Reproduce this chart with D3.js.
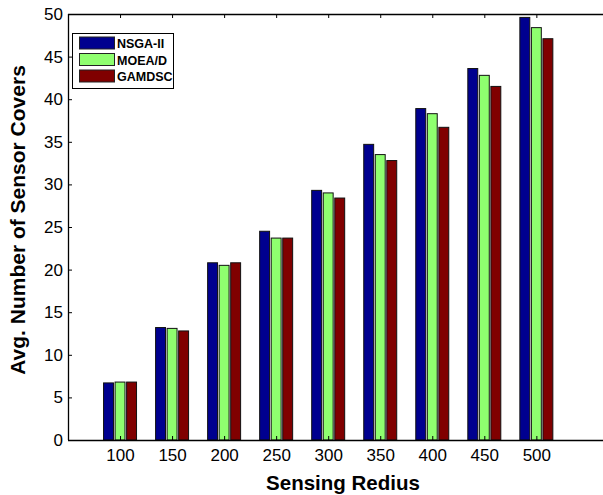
<!DOCTYPE html>
<html><head><meta charset="utf-8">
<script src="https://cdn.jsdelivr.net/npm/d3@7"></script>
<style>body{margin:0;background:#fff;overflow:hidden}svg{display:block}text{font-family:"Liberation Sans",Arial,Helvetica,sans-serif}</style>
</head><body><svg id="c" width="603" height="495"></svg>
<script>
const categories = [100,150,200,250,300,350,400,450,500];
const seriesNames = ["NSGA-II","MOEA/D","GAMDSC"];
const nsga2 = [6.7,13.2,20.8,24.5,29.3,34.7,38.9,43.6,49.6];
const moead = [6.8,13.1,20.5,23.7,29.0,33.5,38.3,42.8,48.4];
const gamdsc = [6.8,12.8,20.8,23.7,28.4,32.8,36.7,41.5,47.1];
const colors = ["#00008f","#8fff6f","#800000"];
const yTicks = [0,5,10,15,20,25,30,35,40,45,50];

const svg = d3.select("#c");
const L=68, T=14, B=440, R=604;
const x = d3.scaleLinear().domain([50,565]).range([L,R]);
const y = d3.scaleLinear().domain([0,50]).range([B,T]);
const off = d3.scaleBand().domain(d3.range(3)).range([-17.3,17.3]).paddingInner(0.14).paddingOuter(0.07);
const series = [nsga2, moead, gamdsc];

series.forEach((vals,si)=>{
  svg.append("g").selectAll("rect").data(vals).join("rect")
    .attr("x",(d,i)=>x(categories[i])+off(si))
    .attr("y",d=>y(d))
    .attr("width",off.bandwidth())
    .attr("height",d=>B-y(d))
    .attr("fill",colors[si])
    .attr("stroke","#111").attr("stroke-width",1);
});

// axes
const fs = 17;
const xb = svg.append("g").attr("transform",`translate(0,${B})`)
  .call(d3.axisBottom(x).tickValues(categories).tickSize(-4).tickSizeOuter(0).tickPadding(9).tickFormat(d3.format("d")));
const xt = svg.append("g").attr("transform",`translate(0,${T})`)
  .call(d3.axisTop(x).tickValues(categories).tickSize(-4).tickSizeOuter(0).tickFormat(""));
const yl = svg.append("g").attr("transform",`translate(${L},0)`)
  .call(d3.axisLeft(y).tickValues(yTicks).tickSize(-4).tickSizeOuter(0).tickPadding(5));
[xb,xt,yl].forEach(g=>{
  g.select(".domain").attr("stroke","#000").attr("stroke-width",1.3);
  g.selectAll(".tick line").attr("stroke","#000");
  g.selectAll("text").attr("font-size",fs).attr("fill","#000").attr("font-family","Liberation Sans, Arial, sans-serif");
});
xb.select(".domain").attr("d",`M${L},0.5H640`);
xt.select(".domain").attr("d",`M${L},0.5H640`);
yl.select(".domain").attr("d",`M0.5,${B}V${T}`);

svg.append("text").attr("x",343).attr("y",490).attr("text-anchor","middle")
  .attr("font-size",20.5).attr("font-weight","bold").text("Sensing Redius");
svg.append("text").attr("transform",`translate(25,220) rotate(-90)`).attr("text-anchor","middle")
  .attr("font-size",21).attr("font-weight","bold").text("Avg. Number of Sensor Covers");

// legend
const lg = svg.append("g");
lg.append("rect").attr("x",72.5).attr("y",33.5).attr("width",101).attr("height",55)
  .attr("fill","#fff").attr("stroke","#000").attr("stroke-width",1);
seriesNames.forEach((n,i)=>{
  const yy = 37+i*16.5;
  lg.append("rect").attr("x",79.5).attr("y",yy).attr("width",35).attr("height",12)
    .attr("fill",colors[i]).attr("stroke","#222");
  lg.append("text").attr("x",117).attr("y",yy+11).attr("font-size",12.5).attr("font-weight","bold").text(n);
});
</script></body></html>
